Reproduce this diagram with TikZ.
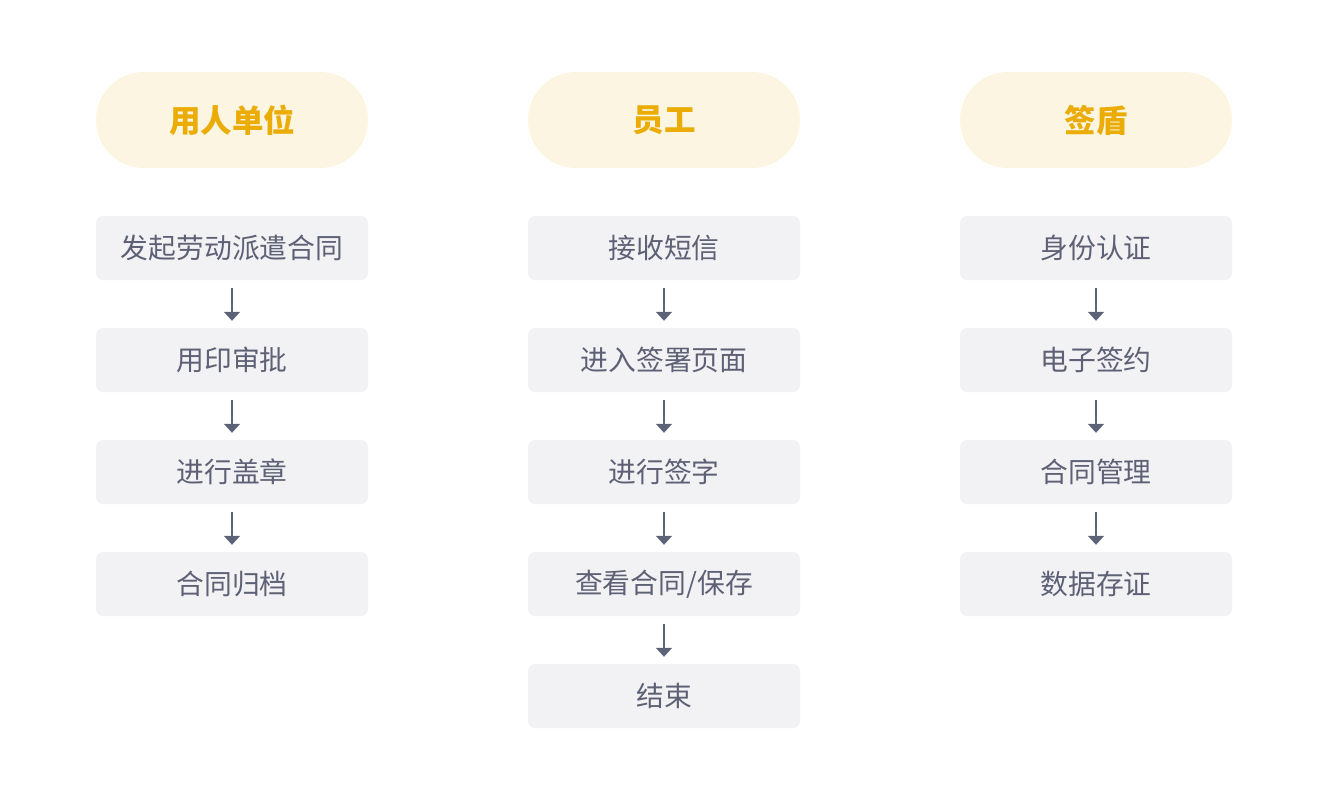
\documentclass[tikz,border=0pt]{standalone}
\usepackage{fontspec}
\setmainfont{Noto Sans CJK SC}
\usetikzlibrary{arrows.meta}
\definecolor{pillfill}{HTML}{FBF5E1}
\definecolor{pilltext}{HTML}{EAAC05}
\definecolor{boxfill}{HTML}{F2F2F4}
\definecolor{boxtext}{HTML}{5E6176}
\definecolor{arrowcol}{HTML}{5F6378}
\tikzset{
  pill/.style={fill=pillfill, rounded corners=48pt, minimum width=272pt, minimum height=96pt, inner sep=0pt,
    text=pilltext, font=\fontsize{31.5}{36}\selectfont\bfseries},
  stepbox/.style={fill=boxfill, rounded corners=7pt, minimum width=272pt, minimum height=64pt, inner sep=0pt,
    text=boxtext, font=\fontsize{27.8}{32}\selectfont},
  flow/.style={draw=arrowcol, line width=2pt, -{Triangle[width=16pt,length=9pt]}, shorten <=8pt, shorten >=7pt}
}
\begin{document}
\begin{tikzpicture}[x=1pt,y=-1pt]
\useasboundingbox (0,0) rectangle (1328,804);
% headers
\node[pill] (h1) at (232,120) {用人单位};
\node[pill] (h2) at (664,120) {员工};
\node[pill] (h3) at (1096,120) {签盾};
% column 1
\node[stepbox] (a1) at (232,248) {发起劳动派遣合同};
\node[stepbox] (a2) at (232,360) {用印审批};
\node[stepbox] (a3) at (232,472) {进行盖章};
\node[stepbox] (a4) at (232,584) {合同归档};
% column 2
\node[stepbox] (b1) at (664,248) {接收短信};
\node[stepbox] (b2) at (664,360) {进入签署页面};
\node[stepbox] (b3) at (664,472) {进行签字};
\node[stepbox] (b4) at (664,584) {查看合同/保存};
\node[stepbox] (b5) at (664,696) {结束};
% column 3
\node[stepbox] (c1) at (1096,248) {身份认证};
\node[stepbox] (c2) at (1096,360) {电子签约};
\node[stepbox] (c3) at (1096,472) {合同管理};
\node[stepbox] (c4) at (1096,584) {数据存证};
% arrows
\draw[flow] (a1) -- (a2);
\draw[flow] (a2) -- (a3);
\draw[flow] (a3) -- (a4);
\draw[flow] (b1) -- (b2);
\draw[flow] (b2) -- (b3);
\draw[flow] (b3) -- (b4);
\draw[flow] (b4) -- (b5);
\draw[flow] (c1) -- (c2);
\draw[flow] (c2) -- (c3);
\draw[flow] (c3) -- (c4);
\end{tikzpicture}
\end{document}
